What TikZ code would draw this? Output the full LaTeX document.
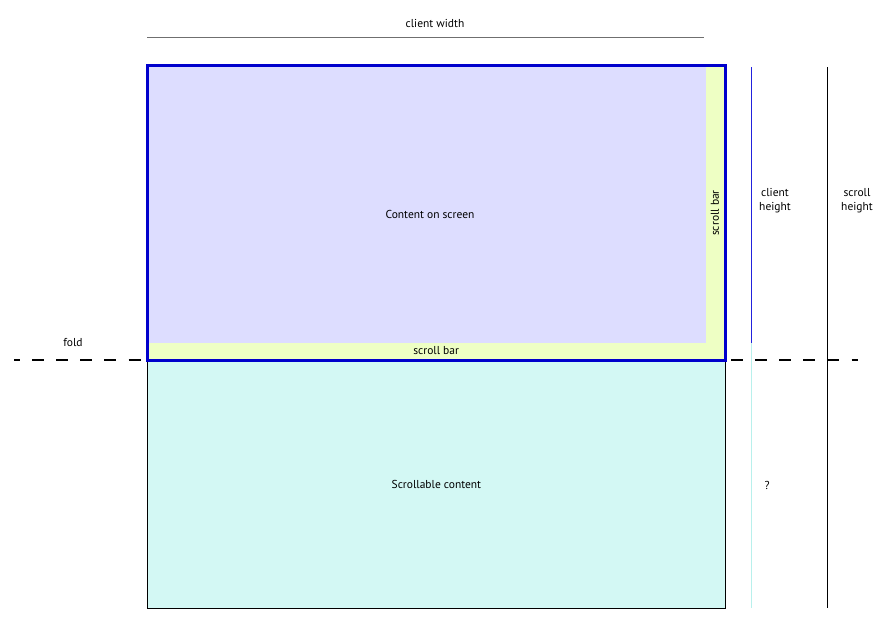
\documentclass[tikz,border=0pt]{standalone}
\usepackage{fontspec}
\setmainfont{PT Sans}
\usetikzlibrary{positioning}
\definecolor{mlav}{HTML}{DDDDFF}
\definecolor{myell}{HTML}{EEFFC4}
\definecolor{mcyan}{HTML}{D3F8F4}
\definecolor{mblue}{HTML}{0000CC}
\definecolor{mgray}{HTML}{6F6F6F}
\definecolor{mline}{HTML}{2222DD}
\definecolor{mpale}{HTML}{B8F0EC}
\tikzstyle{pagebox} = [rectangle, draw = black, line width = 0.8pt, fill = mcyan, inner sep = 0pt]
\tikzstyle{screenbox} = [rectangle, fill = mlav, inner sep = 0pt]
\tikzstyle{barbox} = [rectangle, fill = myell, inner sep = 0pt]
\tikzstyle{screenedge} = [draw = mblue, line width = 3pt]
\tikzstyle{label} = [align = center, inner sep = 0pt]
\tikzstyle{dimline} = [line width = 0.8pt]
\tikzstyle{foldline} = [line width = 1.6pt, dash pattern = on 12pt off 12.1pt, dash phase = 6pt]

\begin{document}
\begin{tikzpicture}[x=1pt, y=-1pt, font=\fontsize{11.5}{14}\selectfont]
  \useasboundingbox (0,0) rectangle (889,629);
  % fold
  \coordinate (foldl) at (14,360);
  \coordinate (foldr) at (858,360);
  \draw [foldline] (foldl) -- (foldr);
  \node (fold) [label] at (73,343) {fold};
  % boxes
  \node (page) [pagebox, anchor = north west, minimum width = 578pt, minimum height = 248pt] at (147,360) {Scrollable content};
  \node (screen) [screenbox, anchor = north west, minimum width = 578pt, minimum height = 295pt] at (147,65) {};
  \node (vbar) [barbox, anchor = north east, minimum width = 18pt, minimum height = 280pt] at (724,66) {};
  \node (hbar) [barbox, anchor = south west, minimum width = 576pt, minimum height = 16pt] at (148,359) {scroll bar};
  \draw [screenedge] (screen.north west) rectangle (screen.south east);
  \node (content) [label] at (430,214) {Content on screen};
  \node (vbarlabel) [label, rotate = 90] at (715,213) {scroll bar};
  % client width
  \node (cwidth) [label] at (435,23) {client width};
  \coordinate (cwl) at (147,37);
  \coordinate (cwr) at (704,37);
  \draw [dimline, mgray] (cwl) -- (cwr);
  % client height
  \coordinate (chtop) at (751,67);
  \coordinate (chmid) at (751,343);
  \coordinate (chbot) at (751,608);
  \draw [line width = 1pt, mline] (chtop) -- (chmid);
  \draw [line width = 1pt, mpale] (chmid) -- (chbot);
  \node (cheight) [label] at (775,201) {client\\height};
  \node (unknown) [label] at (767,485) {?};
  % scroll height
  \coordinate (shtop) at (827,67);
  \coordinate (shbot) at (827,608);
  \draw [dimline] (shtop) -- (shbot);
  \node (sheight) [label] at (857,201) {scroll\\height};
\end{tikzpicture}
\end{document}
